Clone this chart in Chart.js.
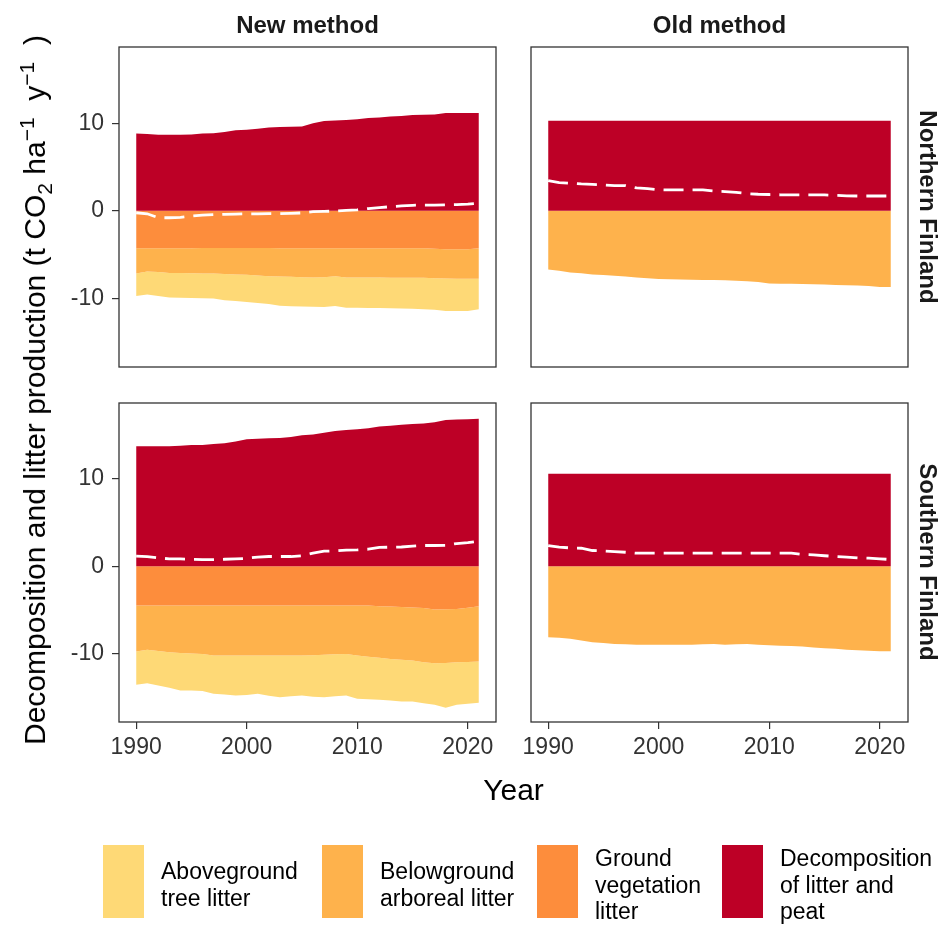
<!DOCTYPE html>
<html>
<head>
<meta charset="utf-8">
<title>Decomposition and litter production</title>
<script src="https://cdn.jsdelivr.net/npm/chart.js@4.4.1/dist/chart.umd.min.js"></script>
<style>
  html, body { margin: 0; padding: 0; background: #fff; }
  #page {
    position: relative; width: 943px; height: 925px; overflow: hidden;
    font-family: "Liberation Sans", Arial, sans-serif; color: #000;
  }
  #page canvas { position: absolute; left: 0; top: 0; }
  .lbl { position: absolute; white-space: nowrap; line-height: 1; transform: translate(-50%, -50%); }
  .strip { font-weight: bold; font-size: 24px; color: #1a1a1a; }
  .strip.side { transform: translate(-50%, -50%) rotate(90deg); }
  .axis-title { font-size: 30px; }
  .axis-title.vert { transform: translate(-50%, -50%) rotate(-90deg); }
  .axis-title sub, .axis-title sup { font-size: 21px; line-height: 0; }
  .key { position: absolute; top: 845px; width: 41px; height: 73px; }
  .key-text { position: absolute; font-size: 23px; line-height: 26.7px; white-space: nowrap; }
</style>
</head>
<body>
<div id="page">
  <canvas id="panel-nn" width="943" height="925"></canvas>
  <canvas id="panel-no" width="943" height="925"></canvas>
  <canvas id="panel-sn" width="943" height="925"></canvas>
  <canvas id="panel-so" width="943" height="925"></canvas>

  <div class="lbl strip" style="left:307.5px; top:25px;">New method</div>
  <div class="lbl strip" style="left:719.5px; top:25px;">Old method</div>
  <div class="lbl strip side" style="left:928px; top:207px;">Northern Finland</div>
  <div class="lbl strip side" style="left:928px; top:562px;">Southern Finland</div>

  <div class="lbl axis-title vert" style="left:35px; top:390px;">Decomposition and litter production (t CO<sub>2</sub> ha<sup>−1</sup>&nbsp;&nbsp;y<sup>−1</sup>&nbsp;&nbsp;)</div>
  <div class="lbl axis-title" style="left:513.5px; top:790px;">Year</div>

  <div id="legend"></div>
</div>

<script>
// ---- data: one value per year, t CO2 / ha / y ----
var YEARS = [1990, 1991, 1992, 1993, 1994, 1995, 1996, 1997, 1998, 1999, 2000,
             2001, 2002, 2003, 2004, 2005, 2006, 2007, 2008, 2009, 2010, 2011,
             2012, 2013, 2014, 2015, 2016, 2017, 2018, 2019, 2020, 2021];
var Y_TICKS = [-10, 0, 10];
var X_TICKS = [1990, 2000, 2010, 2020];

// Northern Finland, new method (litter components as positive magnitudes)
var northNewDecomp = [8.82, 8.75, 8.67, 8.67, 8.67, 8.70, 8.82, 8.85, 8.98, 9.20, 9.24, 9.36, 9.50, 9.55, 9.60, 9.63,
                      10.00, 10.25, 10.30, 10.35, 10.45, 10.58, 10.65, 10.77, 10.82, 10.92, 10.95, 11.00, 11.15, 11.15, 11.15, 11.15];
var northNewGround = [4.30, 4.30, 4.30, 4.30, 4.30, 4.30, 4.25, 4.25, 4.25, 4.25, 4.25, 4.25, 4.25, 4.30, 4.30, 4.30,
                      4.30, 4.30, 4.30, 4.30, 4.30, 4.30, 4.30, 4.30, 4.30, 4.30, 4.30, 4.35, 4.40, 4.40, 4.40, 4.30];
var northNewBelow = [2.87, 2.65, 2.70, 2.80, 2.82, 2.85, 2.92, 2.92, 2.97, 3.04, 3.07, 3.15, 3.23, 3.20, 3.25, 3.30,
                     3.33, 3.30, 3.18, 3.33, 3.33, 3.33, 3.33, 3.35, 3.35, 3.35, 3.35, 3.35, 3.35, 3.38, 3.38, 3.48];
var northNewAbove = [2.56, 2.63, 2.73, 2.82, 2.83, 2.83, 2.83, 2.87, 3.01, 3.01, 3.10, 3.15, 3.17, 3.35, 3.35, 3.35,
                     3.35, 3.40, 3.40, 3.44, 3.45, 3.47, 3.49, 3.50, 3.53, 3.55, 3.60, 3.60, 3.70, 3.67, 3.67, 3.48];
var northNewNet = [-0.23, -0.35, -0.80, -0.80, -0.75, -0.60, -0.50, -0.45, -0.42, -0.38, -0.36, -0.35, -0.33, -0.33, -0.30, -0.25,
                   -0.10, -0.07, -0.05, 0.05, 0.10, 0.25, 0.35, 0.46, 0.55, 0.62, 0.65, 0.65, 0.67, 0.70, 0.75, 0.84];

// Northern Finland, old method
var northOldDecomp = [10.27, 10.27, 10.27, 10.27, 10.27, 10.27, 10.27, 10.27, 10.27, 10.27, 10.27, 10.27, 10.27, 10.27, 10.27, 10.27,
                      10.27, 10.27, 10.27, 10.27, 10.27, 10.27, 10.27, 10.27, 10.27, 10.27, 10.27, 10.27, 10.27, 10.27, 10.27, 10.27];
var northOldBelow = [6.72, 6.87, 7.06, 7.15, 7.29, 7.35, 7.44, 7.50, 7.63, 7.70, 7.79, 7.82, 7.85, 7.88, 7.90, 7.92,
                     7.94, 8.00, 8.05, 8.13, 8.32, 8.33, 8.35, 8.37, 8.40, 8.43, 8.47, 8.51, 8.55, 8.60, 8.70, 8.70];
var northOldNet = [3.44, 3.21, 3.15, 3.06, 3.00, 2.95, 2.87, 2.87, 2.60, 2.52, 2.40, 2.37, 2.37, 2.37, 2.37, 2.25,
                   2.18, 2.10, 1.95, 1.88, 1.85, 1.82, 1.80, 1.80, 1.80, 1.80, 1.75, 1.70, 1.68, 1.68, 1.68, 1.68];

// Southern Finland, new method
var southNewDecomp = [13.75, 13.75, 13.75, 13.75, 13.80, 13.90, 13.90, 14.00, 14.10, 14.30, 14.55, 14.60, 14.65, 14.70, 14.80, 15.00,
                      15.10, 15.30, 15.50, 15.60, 15.70, 15.80, 16.00, 16.10, 16.20, 16.30, 16.35, 16.50, 16.75, 16.80, 16.85, 16.90];
var southNewGround = [4.50, 4.50, 4.50, 4.50, 4.50, 4.50, 4.50, 4.50, 4.50, 4.50, 4.50, 4.50, 4.50, 4.50, 4.50, 4.50,
                      4.50, 4.50, 4.50, 4.50, 4.50, 4.50, 4.60, 4.62, 4.68, 4.74, 4.80, 4.95, 4.93, 4.89, 4.75, 4.60];
var southNewBelow = [5.27, 5.08, 5.22, 5.35, 5.43, 5.50, 5.55, 5.73, 5.73, 5.73, 5.73, 5.73, 5.73, 5.73, 5.73, 5.73,
                     5.70, 5.65, 5.60, 5.57, 5.73, 5.88, 5.90, 6.00, 6.04, 6.06, 6.20, 6.16, 6.15, 6.11, 6.22, 6.33];
var southNewAbove = [3.82, 3.82, 3.95, 4.09, 4.31, 4.24, 4.25, 4.39, 4.47, 4.58, 4.52, 4.39, 4.62, 4.78, 4.67, 4.58,
                     4.75, 4.86, 4.80, 4.74, 4.97, 4.87, 4.80, 4.78, 4.78, 4.70, 4.69, 4.77, 5.15, 4.88, 4.79, 4.72];
var southNewNet = [1.15, 1.10, 0.95, 0.84, 0.84, 0.80, 0.76, 0.76, 0.80, 0.84, 0.90, 1.05, 1.11, 1.11, 1.11, 1.20,
                   1.50, 1.72, 1.75, 1.85, 1.87, 1.95, 2.15, 2.18, 2.20, 2.30, 2.37, 2.37, 2.40, 2.60, 2.70, 2.86];

// Southern Finland, old method
var southOldDecomp = [10.58, 10.58, 10.58, 10.58, 10.58, 10.58, 10.58, 10.58, 10.58, 10.58, 10.58, 10.58, 10.58, 10.58, 10.58, 10.58,
                      10.58, 10.58, 10.58, 10.58, 10.58, 10.58, 10.58, 10.58, 10.58, 10.58, 10.58, 10.58, 10.58, 10.58, 10.58, 10.58];
var southOldBelow = [8.13, 8.20, 8.32, 8.51, 8.71, 8.80, 8.90, 8.95, 9.01, 9.01, 9.01, 9.01, 9.01, 9.00, 8.95, 8.90,
                     9.01, 8.95, 8.90, 9.01, 9.05, 9.10, 9.15, 9.20, 9.30, 9.39, 9.45, 9.58, 9.62, 9.68, 9.74, 9.74];
var southOldNet = [2.37, 2.18, 2.10, 2.06, 1.80, 1.75, 1.68, 1.60, 1.49, 1.49, 1.49, 1.49, 1.49, 1.49, 1.49, 1.49,
                   1.49, 1.49, 1.49, 1.49, 1.49, 1.49, 1.49, 1.35, 1.30, 1.20, 1.11, 1.05, 0.95, 0.92, 0.85, 0.76];

var LEGEND_LABELS = [
  ['Aboveground', 'tree litter'],
  ['Belowground', 'arboreal litter'],
  ['Ground', 'vegetation', 'litter'],
  ['Decomposition', 'of litter and', 'peat']
];

// ---- styling ----
var COL_ABOVE = '#FED976';
var COL_BELOW = '#FEB24C';
var COL_GROUND = '#FD8D3C';
var COL_DECOMP = '#BD0026';
var LEGEND_COLORS = [COL_ABOVE, COL_BELOW, COL_GROUND, COL_DECOMP];

var X_MIN = 1988.45, X_MAX = 2022.55;
var Y_MIN = -17.85, Y_MAX = 18.7;
var PAGE_W = 943, PAGE_H = 925;
var Y_AXIS_W = 70, X_AXIS_H = 50;

Chart.defaults.font.family = '"Liberation Sans", Arial, sans-serif';

function toPoints(values) {
  return values.map(function (v, i) { return { x: YEARS[i], y: v }; });
}

function area(label, values, color, fill) {
  return {
    label: label, data: toPoints(values), fill: fill,
    backgroundColor: color, borderColor: color, borderWidth: 0,
    pointRadius: 0, tension: 0, order: 1
  };
}

function netLine(values) {
  return {
    label: 'Net', data: toPoints(values), fill: false,
    borderColor: '#ffffff', borderWidth: 2.8, borderDash: [20, 9],
    pointRadius: 0, tension: 0, order: 0
  };
}

// new method: three litter layers stacked downward, decomposition upward
function newMethodSets(ground, below, above, decomp, net) {
  var groundEdge = ground.map(function (v) { return -v; });
  var belowEdge = below.map(function (v, i) { return groundEdge[i] - v; });
  var aboveEdge = above.map(function (v, i) { return belowEdge[i] - v; });
  return [
    area('Decomposition of litter and peat', decomp, COL_DECOMP, 'origin'),
    area('Ground vegetation litter', groundEdge, COL_GROUND, 'origin'),
    area('Belowground arboreal litter', belowEdge, COL_BELOW, '-1'),
    area('Aboveground tree litter', aboveEdge, COL_ABOVE, '-1'),
    netLine(net)
  ];
}

function oldMethodSets(below, decomp, net) {
  return [
    area('Decomposition of litter and peat', decomp, COL_DECOMP, 'origin'),
    area('Belowground arboreal litter', below.map(function (v) { return -v; }), COL_BELOW, 'origin'),
    netLine(net)
  ];
}

var panelFrame = {
  id: 'panelFrame',
  afterDraw: function (chart) {
    var a = chart.chartArea, ctx = chart.ctx;
    ctx.save();
    ctx.strokeStyle = '#333333';
    ctx.lineWidth = 1.3;
    ctx.strokeRect(a.left, a.top, a.right - a.left, a.bottom - a.top);
    ctx.restore();
  }
};

function tickGrid() {
  return { drawOnChartArea: false, drawTicks: true, tickLength: 7, color: '#333333', lineWidth: 1.2 };
}

function makePanel(id, box, datasets, showX, showY) {
  var yw = showY ? Y_AXIS_W : 0;
  var xh = showX ? X_AXIS_H : 0;
  return new Chart(document.getElementById(id), {
    type: 'line',
    data: { datasets: datasets },
    plugins: [panelFrame],
    options: {
      responsive: false,
      animation: false,
      devicePixelRatio: 1,
      events: [],
      layout: {
        padding: {
          left: box.left - yw,
          top: box.top,
          right: PAGE_W - box.right,
          bottom: PAGE_H - box.bottom - xh
        }
      },
      plugins: { legend: { display: false }, tooltip: { enabled: false } },
      scales: {
        x: {
          type: 'linear', min: X_MIN, max: X_MAX, display: showX,
          afterBuildTicks: function (s) { s.ticks = X_TICKS.map(function (v) { return { value: v }; }); },
          afterFit: function (s) { s.height = xh; },
          grid: tickGrid(),
          border: { display: false },
          ticks: {
            color: '#333333', font: { size: 23 }, padding: 5, maxRotation: 0,
            callback: function (v) { return String(v); }
          }
        },
        y: {
          type: 'linear', min: Y_MIN, max: Y_MAX, display: showY,
          afterBuildTicks: function (s) { s.ticks = Y_TICKS.map(function (v) { return { value: v }; }); },
          afterFit: function (s) { s.width = yw; },
          grid: tickGrid(),
          border: { display: false },
          ticks: { color: '#333333', font: { size: 23 }, padding: 8 }
        }
      }
    }
  });
}

function buildLegend() {
  var host = document.getElementById('legend');
  var keyLeft = [103, 322, 537, 722];
  var lineH = 26.7, midY = 885;
  LEGEND_LABELS.forEach(function (lines, i) {
    var key = document.createElement('div');
    key.className = 'key';
    key.style.left = keyLeft[i] + 'px';
    key.style.background = LEGEND_COLORS[i];
    host.appendChild(key);

    var txt = document.createElement('div');
    txt.className = 'key-text';
    txt.style.left = (keyLeft[i] + 58) + 'px';
    txt.style.top = (midY - lines.length * lineH / 2) + 'px';
    txt.innerHTML = lines.join('<br>');
    host.appendChild(txt);
  });
}

function boot() {
  makePanel('panel-nn', { left: 119, top: 47, right: 496, bottom: 367 },
    newMethodSets(northNewGround, northNewBelow, northNewAbove, northNewDecomp, northNewNet), false, true);
  makePanel('panel-no', { left: 531, top: 47, right: 908, bottom: 367 },
    oldMethodSets(northOldBelow, northOldDecomp, northOldNet), false, false);
  makePanel('panel-sn', { left: 119, top: 403, right: 496, bottom: 722 },
    newMethodSets(southNewGround, southNewBelow, southNewAbove, southNewDecomp, southNewNet), true, true);
  makePanel('panel-so', { left: 531, top: 403, right: 908, bottom: 722 },
    oldMethodSets(southOldBelow, southOldDecomp, southOldNet), true, false);
  buildLegend();
}

boot();
</script>
</body>
</html>
